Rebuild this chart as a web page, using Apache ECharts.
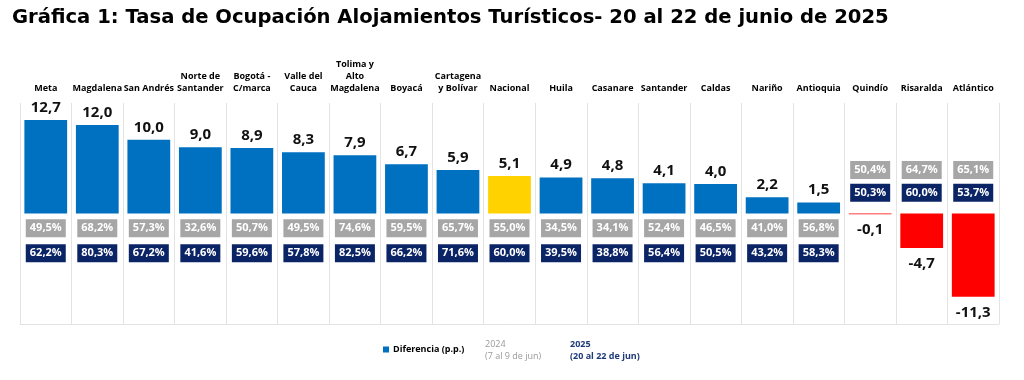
<!DOCTYPE html>
<html><head><meta charset="utf-8">
<script src="https://cdn.jsdelivr.net/npm/echarts@6/dist/echarts.min.js"></script>
<style>html,body{margin:0;padding:0;background:#fff}#c{width:1024px;height:380px}</style>
</head><body><div id="c"></div>
<script>
const categories = ["Meta","Magdalena","San Andrés","Norte de\nSantander","Bogotá -\nC/marca","Valle del\nCauca","Tolima y\nAlto\nMagdalena","Boyacá","Cartagena\ny Bolívar","Nacional","Huila","Casanare","Santander","Caldas","Nariño","Antioquia","Quindío","Risaralda","Atlántico"];
const diferencia = [12.7,12.0,10.0,9.0,8.9,8.3,7.9,6.7,5.9,5.1,4.9,4.8,4.1,4.0,2.2,1.5,-0.1,-4.7,-11.3];
const ocup2024 = [49.5,68.2,57.3,32.6,50.7,49.5,74.6,59.5,65.7,55.0,34.5,34.1,52.4,46.5,41.0,56.8,50.4,64.7,65.1];
const ocup2025 = [62.2,80.3,67.2,41.6,59.6,57.8,82.5,66.2,71.6,60.0,39.5,38.8,56.4,50.5,43.2,58.3,50.3,60.0,53.7];

const fmt = v => v.toFixed(1).replace('.', ',');
const FONT = '"Open Sans", "Noto Sans", sans-serif';

const barData = diferencia.map((v, i) => ({
  value: v,
  itemStyle: { color: v < 0 ? '#FF0000' : (categories[i] === 'Nacional' ? '#FFD200' : '#0070C0') },
  label: { position: v < 0 ? 'bottom' : 'top', distance: v < 0 ? 8 : 5 }
}));
// box rows: below zero for positive bars, above zero for negative bars
const row24 = diferencia.map((v, i) => [i, v < 0 ? 5.9 : -2.0, ocup2024[i]]);
const row25 = diferencia.map((v, i) => [i, v < 0 ? 2.8 : -5.4, ocup2025[i]]);

const boxLabel = (bg) => ({
  show: true, position: 'inside', opacity: 1,
  formatter: p => fmt(p.value[2]) + '%',
  backgroundColor: bg, color: '#fff', fontWeight: 'bold', fontSize: 11,
  fontFamily: FONT, padding: [4, 3, 3, 3], width: 34, align: 'center'
});

const chart = echarts.init(document.getElementById('c'), null, { renderer: 'canvas' });
chart.setOption({
  animation: false,
  backgroundColor: '#fff',
  title: {
    text: 'Gráfica 1: Tasa de Ocupación Alojamientos Turísticos- 20 al 22 de junio de 2025',
    left: 7, top: 3,
    textStyle: { fontFamily: '"DejaVu Sans", sans-serif', fontWeight: 'bold', fontSize: 19.6, color: '#000' }
  },
  grid: { left: 20, right: 25, top: 103, bottom: 56 },
  legend: {
    data: [{ name: 'Diferencia (p.p.)', itemStyle: { color: '#0070C0' } }],
    left: 378, top: 340, icon: 'rect', itemWidth: 6, itemHeight: 6, itemGap: 4,
    textStyle: { fontFamily: FONT, fontWeight: 'bold', fontSize: 9, color: '#000', padding: [0,0,0,-1] }
  },
  graphic: [
    { type: 'text', left: 485, top: 340, style: { text: '2024', fill: '#9a9a9a', font: '9px ' + FONT } },
    { type: 'text', left: 485, top: 352, style: { text: '(7 al 9 de jun)', fill: '#9a9a9a', font: '9px ' + FONT } },
    { type: 'text', left: 570, top: 340, style: { text: '2025', fill: '#1f3a78', font: 'bold 9px ' + FONT } },
    { type: 'text', left: 570, top: 352, style: { text: '(20 al 22 de jun)', fill: '#1f3a78', font: 'bold 9px ' + FONT } }
  ],
  xAxis: [{
    type: 'category', data: categories, position: 'top',
    axisLine: { show: false }, axisTick: { show: false },
    axisLabel: { interval: 0, fontFamily: FONT, fontWeight: 'bold', fontSize: 9, color: '#000', lineHeight: 12, margin: 9 },
    splitLine: { show: true, interval: 0, lineStyle: { color: '#e3e3e3', width: 1 } }
  }, {
    type: 'category', data: categories, position: 'bottom',
    axisLine: { show: true, lineStyle: { color: '#e3e3e3' } }, axisTick: { show: false }, axisLabel: { show: false }
  }],
  yAxis: { type: 'value', min: -15, max: 15, show: false, splitLine: { show: false } },
  series: [{
    name: 'Diferencia (p.p.)', type: 'bar', data: barData, barCategoryGap: '17%',
    label: { show: true, formatter: p => fmt(p.value), fontFamily: FONT, fontWeight: 'bold', fontSize: 15, color: '#111' }
  }, {
    name: '2024', type: 'scatter', data: row24, symbolSize: 1, itemStyle: { color: 'transparent', opacity: 1 },
    label: boxLabel('#a6a6a6'), z: 5
  }, {
    name: '2025', type: 'scatter', data: row25, symbolSize: 1, itemStyle: { color: 'transparent', opacity: 1 },
    label: boxLabel('#0b2466'), z: 5
  }]
});
</script></body></html>
